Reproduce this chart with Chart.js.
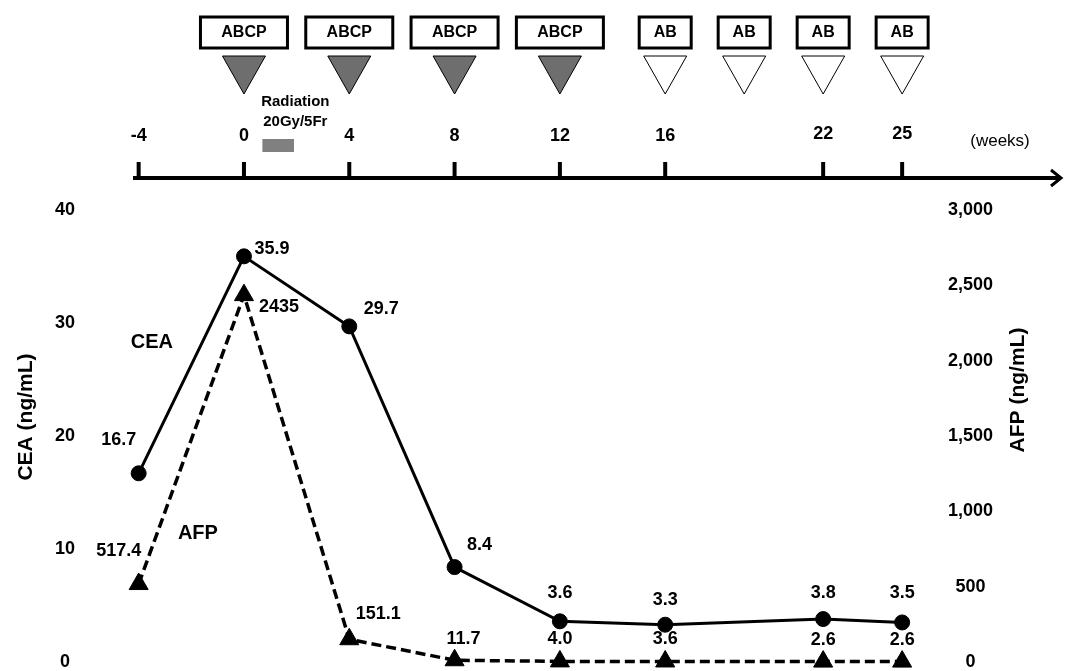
<!DOCTYPE html>
<html>
<head>
<meta charset="utf-8">
<script src="https://cdn.jsdelivr.net/npm/chart.js@4"></script>
<style>
  body { margin: 0; background: #fff; }
  canvas { display: block; }
</style>
</head>
<body>
<canvas id="plot1" width="1065" height="671"></canvas>
<script>
// semanas de cada medicion
let semanas = [-4, 0, 4, 8, 12, 16, 22, 25]
let ceaArr = [16.7, 35.9, 29.7, 8.4, 3.6, 3.3, 3.8, 3.5]
let afpArr = [517.4, 2435, 151.1, 11.7, 4.0, 3.6, 2.6, 2.6]
let ceaTexto = ['16.7', '35.9', '29.7', '8.4', '3.6', '3.3', '3.8', '3.5']
let afpTexto = ['517.4', '2435', '151.1', '11.7', '4.0', '3.6', '2.6', '2.6']

// linea de tiempo superior
let semanasTicks = [-4, 0, 4, 8, 12, 16, 22, 25]
let ciclosABCP = [0, 4, 8, 12]
let ciclosAB = [16, 19, 22, 25]
let radiacion = [0.7, 1.9]

// desplazamiento de las etiquetas de cada punto (px)
let ceaOffset = [[-20, -33], [28, -7], [32, -17], [25, -22], [0, -28], [0, -25], [0, -26], [0, -29]]
let afpOffset = [[-20, -33], [35, 12], [29, -25], [9, -21], [0, -22], [0, -22], [0, -22], [0, -22]]

const FUENTE = '"Liberation Sans", Arial, sans-serif'

let puntos = (arr) => semanas.map((s, i) => ({ x: s, y: arr[i] }))

let sinPadding = (scale, ancho) => {
  scale.width = ancho
  scale.paddingTop = 0
  scale.paddingBottom = 0
}

let pluginDibujo = {
  id: 'dibujo',
  afterDatasetsDraw: (chart) => {
    let ctx = chart.ctx
    let xs = chart.scales.x
    let yc = chart.scales.cea
    let ya = chart.scales.afp
    ctx.save()
    ctx.fillStyle = '#000'
    ctx.textAlign = 'center'
    ctx.textBaseline = 'middle'

    // etiquetas de valores
    ctx.font = 'bold 18px ' + FUENTE
    chart.getDatasetMeta(0).data.forEach((p, i) => {
      ctx.fillText(ceaTexto[i], p.x + ceaOffset[i][0], p.y + ceaOffset[i][1])
    })
    chart.getDatasetMeta(1).data.forEach((p, i) => {
      ctx.fillText(afpTexto[i], p.x + afpOffset[i][0], p.y + afpOffset[i][1])
    })

    // nombres de las series
    ctx.font = 'bold 20px ' + FUENTE
    ctx.fillText('CEA', xs.getPixelForValue(-3.5), yc.getPixelForValue(28.3))
    ctx.fillText('AFP', xs.getPixelForValue(-1.75), ya.getPixelForValue(856))

    // titulos de ejes
    ctx.font = 'bold 21px ' + FUENTE
    ctx.save()
    ctx.translate(26, 417)
    ctx.rotate(-Math.PI / 2)
    ctx.fillText('CEA (ng/mL)', 0, 0)
    ctx.restore()
    ctx.save()
    ctx.translate(1018, 390)
    ctx.rotate(-Math.PI / 2)
    ctx.fillText('AFP (ng/mL)', 0, 0)
    ctx.restore()

    // eje de semanas
    let yLinea = 178
    ctx.strokeStyle = '#000'
    ctx.lineWidth = 4
    ctx.beginPath()
    ctx.moveTo(133, yLinea)
    ctx.lineTo(1060, yLinea)
    ctx.stroke()
    ctx.lineWidth = 3
    ctx.beginPath()
    ctx.moveTo(1051, yLinea - 8)
    ctx.lineTo(1061, yLinea)
    ctx.lineTo(1051, yLinea + 8)
    ctx.stroke()

    ctx.lineWidth = 4
    ctx.font = 'bold 18px ' + FUENTE
    semanasTicks.forEach(s => {
      let px = xs.getPixelForValue(s)
      ctx.beginPath()
      ctx.moveTo(px, yLinea)
      ctx.lineTo(px, yLinea - 16)
      ctx.stroke()
      ctx.fillText(String(s), px, s >= 22 ? 134 : 136)
    })
    ctx.font = '17px ' + FUENTE
    ctx.fillText('(weeks)', 1000, 141)

    // radiacion
    ctx.fillStyle = '#808080'
    let r0 = xs.getPixelForValue(radiacion[0])
    let r1 = xs.getPixelForValue(radiacion[1])
    ctx.fillRect(r0, 139, r1 - r0, 13)
    ctx.fillStyle = '#000'
    ctx.font = 'bold 15px ' + FUENTE
    let rx = xs.getPixelForValue(1.95)
    ctx.fillText('Radiation', rx, 102)
    ctx.fillText('20Gy/5Fr', rx, 122)

    // ciclos de quimioterapia
    let ciclo = (s, texto, ancho, relleno) => {
      let px = xs.getPixelForValue(s)
      ctx.fillStyle = '#fff'
      ctx.fillRect(px - ancho / 2, 17, ancho, 31)
      ctx.lineWidth = 3
      ctx.strokeStyle = '#000'
      ctx.strokeRect(px - ancho / 2, 17, ancho, 31)
      ctx.fillStyle = '#000'
      ctx.font = 'bold 16px ' + FUENTE
      ctx.fillText(texto, px, 33)
      ctx.beginPath()
      ctx.moveTo(px - 21.5, 56)
      ctx.lineTo(px + 21.5, 56)
      ctx.lineTo(px, 94)
      ctx.closePath()
      ctx.fillStyle = relleno
      ctx.fill()
      ctx.lineWidth = 1
      ctx.stroke()
    }
    ciclosABCP.forEach(s => ciclo(s, 'ABCP', 87, '#6e6e6e'))
    ciclosAB.forEach(s => ciclo(s, 'AB', 52, '#fff'))

    ctx.restore()
  }
}

let config = {
  type: 'line',
  data: {
    datasets: [
      {
        label: 'CEA',
        data: puntos(ceaArr),
        yAxisID: 'cea',
        borderColor: '#000',
        backgroundColor: '#000',
        borderWidth: 3,
        pointStyle: 'circle',
        pointRadius: 7.5,
        pointBorderWidth: 1,
        clip: false
      },
      {
        label: 'AFP',
        data: puntos(afpArr),
        yAxisID: 'afp',
        borderColor: '#000',
        backgroundColor: '#000',
        borderWidth: 3.5,
        borderDash: [10, 5],
        pointStyle: 'triangle',
        pointRadius: 11,
        pointBorderWidth: 1,
        clip: false
      }
    ]
  },
  options: {
    responsive: false,
    animation: false,
    layout: { autoPadding: false, padding: { top: 210, bottom: 9, left: 0, right: 0 } },
    plugins: { legend: { display: false }, tooltip: { enabled: false } },
    scales: {
      x: { type: 'linear', min: -6, max: 26.4, display: false },
      cea: {
        type: 'linear',
        position: 'left',
        min: 0, max: 40,
        grid: { display: false, drawTicks: false },
        border: { display: false },
        ticks: {
          stepSize: 10,
          crossAlign: 'center',
          padding: 11,
          color: '#000',
          font: { family: FUENTE, size: 18, weight: 'bold' }
        },
        afterFit: (scale) => sinPadding(scale, 86)
      },
      afp: {
        type: 'linear',
        position: 'right',
        min: 0, max: 3000,
        grid: { display: false, drawTicks: false },
        border: { display: false },
        ticks: {
          stepSize: 500,
          crossAlign: 'center',
          padding: 9,
          color: '#000',
          font: { family: FUENTE, size: 18, weight: 'bold' },
          callback: (v) => v.toLocaleString('en-US')
        },
        afterFit: (scale) => sinPadding(scale, 126)
      }
    }
  },
  plugins: [pluginDibujo]
}

let chart1 = new Chart(document.getElementById('plot1'), config)
</script>
</body>
</html>
